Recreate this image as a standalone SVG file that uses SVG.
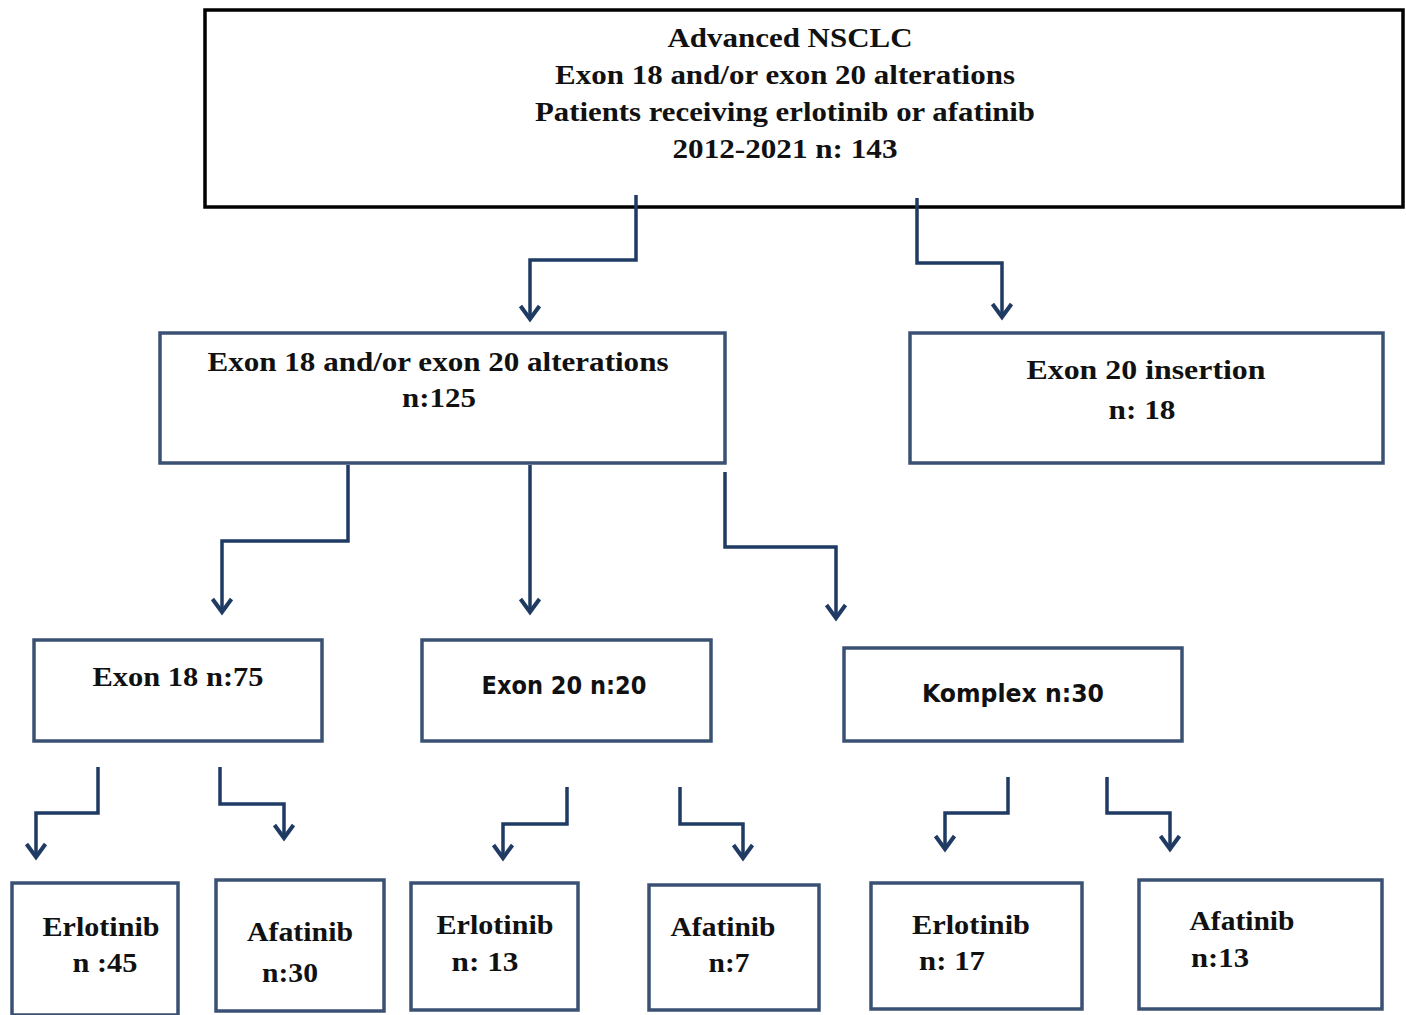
<svg xmlns="http://www.w3.org/2000/svg" width="1406" height="1015" viewBox="0 0 1406 1015">
<style>
.box{fill:#fff;stroke:#3b5174;stroke-width:3.5}
.top{fill:#fff;stroke:#000;stroke-width:3.5}
.ser{font-family:'Liberation Serif','Times New Roman',Times,serif;font-weight:700;font-size:28px;fill:#111}
.sans{font-family:'DejaVu Sans','Liberation Sans',sans-serif;font-weight:700;font-size:25px;fill:#111}
.con{fill:none;stroke:#1f3b63;stroke-width:3.5;marker-end:url(#arr)}
</style>
<defs>
<marker id="arr" markerUnits="userSpaceOnUse" markerWidth="30" markerHeight="30" refX="0" refY="0" orient="auto" overflow="visible" viewBox="-15 -15 30 30">
<path d="M-13,-9.5 L0,0 L-13,9.5" fill="none" stroke="#1f3b63" stroke-width="4"/>
</marker>
</defs>
<rect width="1406" height="1015" fill="#fff"/>
<g id="n-root">
<rect class="top" x="205" y="10" width="1198" height="197"/>
<text class="ser" x="790" y="47" text-anchor="middle" textLength="245" lengthAdjust="spacingAndGlyphs">Advanced NSCLC</text>
<text class="ser" x="785" y="84" text-anchor="middle" textLength="460" lengthAdjust="spacingAndGlyphs">Exon 18 and/or exon 20 alterations</text>
<text class="ser" x="785" y="121" text-anchor="middle" textLength="500" lengthAdjust="spacingAndGlyphs">Patients receiving erlotinib or afatinib</text>
<text class="ser" x="785" y="158" text-anchor="middle" textLength="225" lengthAdjust="spacingAndGlyphs">2012-2021 n: 143</text>
</g>
<g id="n-alt">
<rect class="box" x="160" y="333" width="565" height="130"/>
<text class="ser" x="438" y="371" text-anchor="middle" textLength="461" lengthAdjust="spacingAndGlyphs">Exon 18 and/or exon 20 alterations</text>
<text class="ser" x="439" y="407" text-anchor="middle" textLength="74" lengthAdjust="spacingAndGlyphs">n:125</text>
</g>
<g id="n-ins">
<rect class="box" x="910" y="333" width="473" height="130"/>
<text class="ser" x="1146" y="379" text-anchor="middle" textLength="239" lengthAdjust="spacingAndGlyphs">Exon 20  insertion</text>
<text class="ser" x="1142" y="419" text-anchor="middle" textLength="67" lengthAdjust="spacingAndGlyphs">n: 18</text>
</g>
<g id="n-e18">
<rect class="box" x="34" y="640" width="288" height="101"/>
<text class="ser" x="178" y="686" text-anchor="middle" textLength="171" lengthAdjust="spacingAndGlyphs">Exon 18 n:75</text>
</g>
<g id="n-e20">
<rect class="box" x="422" y="640" width="289" height="101"/>
<text class="sans" x="564" y="694" text-anchor="middle" textLength="165" lengthAdjust="spacingAndGlyphs">Exon 20 n:20</text>
</g>
<g id="n-kom">
<rect class="box" x="844" y="648" width="338" height="93"/>
<text class="sans" x="1013" y="702" text-anchor="middle" textLength="182" lengthAdjust="spacingAndGlyphs">Komplex n:30</text>
</g>
<g id="n-e18-erl">
<rect class="box" x="12" y="883" width="166" height="132"/>
<text class="ser" x="101" y="936" text-anchor="middle" textLength="117" lengthAdjust="spacingAndGlyphs">Erlotinib</text>
<text class="ser" x="105" y="972" text-anchor="middle" textLength="65" lengthAdjust="spacingAndGlyphs">n :45</text>
</g>
<g id="n-e18-afa">
<rect class="box" x="216" y="880" width="168" height="131"/>
<text class="ser" x="300" y="941" text-anchor="middle" textLength="106" lengthAdjust="spacingAndGlyphs">Afatinib</text>
<text class="ser" x="290" y="982" text-anchor="middle" textLength="56" lengthAdjust="spacingAndGlyphs">n:30</text>
</g>
<g id="n-e20-erl">
<rect class="box" x="411" y="883" width="167" height="127"/>
<text class="ser" x="495" y="934" text-anchor="middle" textLength="117" lengthAdjust="spacingAndGlyphs">Erlotinib</text>
<text class="ser" x="485" y="971" text-anchor="middle" textLength="67" lengthAdjust="spacingAndGlyphs">n: 13</text>
</g>
<g id="n-e20-afa">
<rect class="box" x="649" y="885" width="170" height="125"/>
<text class="ser" x="723" y="936" text-anchor="middle" textLength="105" lengthAdjust="spacingAndGlyphs">Afatinib</text>
<text class="ser" x="729" y="972" text-anchor="middle" textLength="41" lengthAdjust="spacingAndGlyphs">n:7</text>
</g>
<g id="n-kom-erl">
<rect class="box" x="871" y="883" width="211" height="126"/>
<text class="ser" x="971" y="934" text-anchor="middle" textLength="118" lengthAdjust="spacingAndGlyphs">Erlotinib</text>
<text class="ser" x="952" y="970" text-anchor="middle" textLength="66" lengthAdjust="spacingAndGlyphs">n: 17</text>
</g>
<g id="n-kom-afa">
<rect class="box" x="1139" y="880" width="243" height="129"/>
<text class="ser" x="1242" y="930" text-anchor="middle" textLength="105" lengthAdjust="spacingAndGlyphs">Afatinib</text>
<text class="ser" x="1220" y="967" text-anchor="middle" textLength="58" lengthAdjust="spacingAndGlyphs">n:13</text>
</g>
<g id="connectors">
<path class="con" d="M636,195 V260 H530 V319"/>
<path class="con" d="M917,198 V263 H1002 V317"/>
<path class="con" d="M348,465 V541 H222 V612"/>
<path class="con" d="M530,465 V612"/>
<path class="con" d="M725,472 V547 H836 V618"/>
<path class="con" d="M98,767 V813 H36 V857"/>
<path class="con" d="M220,767 V804 H284 V838"/>
<path class="con" d="M567,787 V824 H503 V858"/>
<path class="con" d="M680,787 V824 H743 V858"/>
<path class="con" d="M1008,777 V813 H945 V849"/>
<path class="con" d="M1107,777 V813 H1170 V849"/>
</g>
</svg>
